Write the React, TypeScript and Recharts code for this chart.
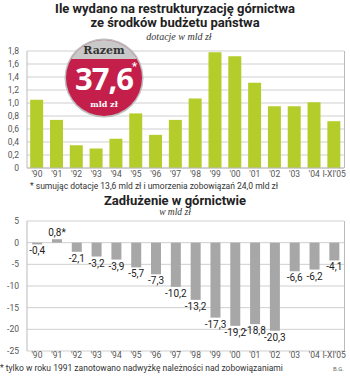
import React from 'react';
import { BarChart, Bar, XAxis, YAxis, CartesianGrid, LabelList } from 'recharts';

const years = ["'90", "'91", "'92", "'93", "'94", "'95", "'96", "'97", "'98", "'99", "'00", "'01", "'02", "'03", "'04", "I-XI'05"];
const dotacje = [1.05, 0.74, 0.35, 0.3, 0.45, 0.84, 0.51, 0.74, 1.07, 1.78, 1.72, 1.31, 0.95, 0.95, 1.01, 0.72];
const zadluzenie = [-0.4, 0.8, -2.1, -3.2, -3.9, -5.7, -7.3, -10.2, -13.2, -17.3, -19.2, -18.8, -20.3, -6.6, -6.2, -4.1];
const zadluzenieLabels = ['-0,4', '0,8*', '-2,1', '-3,2', '-3,9', '-5,7', '-7,3', '-10,2', '-13,2', '-17,3', '-19,2', '-18,8', '-20,3', '-6,6', '-6,2', '-4,1'];
const topTicks = [0, 0.2, 0.4, 0.6, 0.8, 1.0, 1.2, 1.4, 1.6, 1.8];
const bottomTicks = [5, 0, -5, -10, -15, -20, -25];

const topData = years.map((year, i) => ({ year, value: dotacje[i] }));
const bottomData = years.map((year, i) => ({ year, value: zadluzenie[i], label: zadluzenieLabels[i] }));

const font = 'Roboto, "DejaVu Sans", sans-serif';
const tickStyle = { fontSize: 8.5, fill: '#555', fontFamily: font };

const fmt = (v: number) => (v === 0 ? '0' : v.toFixed(1).replace('.', ','));

const ValueLabel = (props: any) => {
  const { x, y, width, height, value } = props;
  const top = Math.min(y, y + height);
  const bottom = Math.max(y, y + height);
  const neg = String(value).startsWith('-');
  return (
    <text
      x={x + width / 2}
      y={neg ? bottom + 10 : top - 3}
      textAnchor="middle"
      fontSize={10}
      fill="#222"
      fontFamily={font}
    >
      {value}
    </text>
  );
};

export default function App() {
  return (
    <div style={{ position: 'absolute', left: 0, top: 0, width: 350, height: 379, background: '#fff', fontFamily: font, overflow: 'hidden' }}>
      <div style={{ position: 'absolute', top: 2, left: 0, width: 350, textAlign: 'center', fontWeight: 700, fontSize: 13, lineHeight: '14px', color: '#222', fontFamily: font }}>
        Ile wydano na restrukturyzację górnictwa<br />ze środków budżetu państwa
      </div>
      <div style={{ position: 'absolute', top: 31, left: 4, width: 350, textAlign: 'center', fontStyle: 'italic', fontSize: 10, color: '#333', fontFamily: '"Liberation Serif", serif' }}>
        dotacje w mld zł
      </div>

      <div style={{ position: 'absolute', top: 45, left: 0 }}>
        <BarChart width={350} height={139} data={topData} margin={{ top: 6, right: 6, left: 0, bottom: 0 }} barCategoryGap="16%">
          <CartesianGrid vertical={false} stroke="#cfcfcf" />
          <XAxis dataKey="year" interval={0} tick={tickStyle} tickLine={false} tickSize={3} axisLine={{ stroke: '#bbb' }} height={16} tickMargin={0} />
          <YAxis domain={[0, 1.8]} ticks={topTicks} tickFormatter={fmt} tick={tickStyle} tickLine={false} axisLine={{ stroke: '#bbb' }} width={27} interval={0} />
          <Bar dataKey="value" fill="#b5cd2a" isAnimationActive={false} />
        </BarChart>
      </div>
      <div style={{ position: 'absolute', left: 344, top: 51, width: 1, height: 117, background: '#bbb' }} />

      <div style={{ position: 'absolute', left: 66, top: 40, width: 76, height: 76, borderRadius: '50%', overflow: 'hidden', background: '#c41f4b', boxShadow: '0 0 0 1.5px #bdbdbd' }}>
        <div style={{ position: 'absolute', left: 0, top: 0, width: 76, height: 19, background: '#c9c9c9' }} />
        <div style={{ position: 'absolute', left: 0, top: 4, width: 76, textAlign: 'center', fontSize: 11, fontWeight: 700, color: '#333', fontFamily: '"DejaVu Serif", serif' }}>Razem</div>
        <div style={{ position: 'absolute', left: 0, top: 17, width: 76, textAlign: 'center', fontSize: 31, fontWeight: 700, color: '#fff', fontFamily: '"Open Sans", sans-serif', letterSpacing: -1 }}>37,6</div>
        <div style={{ position: 'absolute', left: 66, top: 20, fontSize: 11, fontWeight: 700, color: '#fff' }}>*</div>
        <div style={{ position: 'absolute', left: 0, top: 59, width: 76, textAlign: 'center', fontSize: 8, fontWeight: 700, color: '#fff', fontFamily: '"DejaVu Serif", serif' }}>mld zł</div>
      </div>

      <div style={{ position: 'absolute', top: 181, left: 30, fontSize: 8.5, lineHeight: '10px', color: '#333', whiteSpace: 'nowrap' }}>
        * sumując dotacje 13,6 mld zł i umorzenia zobowiązań 24,0 mld zł
      </div>

      <div style={{ position: 'absolute', top: 193, left: 0, width: 350, textAlign: 'center', fontWeight: 700, fontSize: 13, color: '#222', fontFamily: font }}>
        Zadłużenie w górnictwie
      </div>
      <div style={{ position: 'absolute', top: 207, left: 0, width: 350, textAlign: 'center', fontStyle: 'italic', fontSize: 9.5, color: '#333', fontFamily: '"Liberation Serif", serif' }}>
        w mld zł
      </div>

      <div style={{ position: 'absolute', top: 215, left: 0 }}>
        <BarChart width={350} height={150} data={bottomData} margin={{ top: 6, right: 6, left: 0, bottom: 0 }} barCategoryGap="26%">
          <CartesianGrid vertical={false} stroke="#cfcfcf" />
          <XAxis dataKey="year" interval={0} tick={tickStyle} tickLine={false} tickSize={1} axisLine={false} height={14} tickMargin={0} />
          <YAxis domain={[-25, 5]} ticks={bottomTicks} tick={tickStyle} tickLine={false} axisLine={{ stroke: '#bbb' }} width={27} interval={0} />
          <Bar dataKey="value" fill="#a7a7a7" isAnimationActive={false}>
            <LabelList dataKey="label" content={ValueLabel} />
          </Bar>
        </BarChart>
      </div>
      <div style={{ position: 'absolute', left: 344, top: 221, width: 1, height: 130, background: '#bbb' }} />

      <div style={{ position: 'absolute', top: 363, left: 0, fontSize: 8.5, lineHeight: '10px', color: '#333', whiteSpace: 'nowrap' }}>
        * tylko w roku 1991 zanotowano nadwyżkę należności nad zobowiązaniami
      </div>
      <div style={{ position: 'absolute', top: 365, left: 333, fontSize: 6, lineHeight: '7px', color: '#666' }}>B.G.</div>
    </div>
  );
}
